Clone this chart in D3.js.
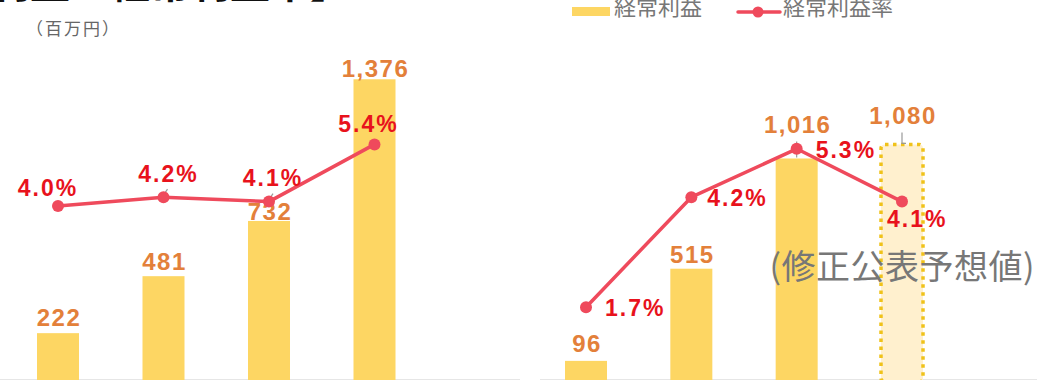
<!DOCTYPE html>
<html lang="ja">
<head>
<meta charset="utf-8">
<script src="https://cdn.jsdelivr.net/npm/d3@7"></script>
<style>
  html, body { margin: 0; padding: 0; background: #fff; }
  svg { display: block; }
</style>
</head>
<body>
<svg id="chart" width="1037" height="380"></svg>
<script>
// ---- data ----
const periodsA = ["A1", "A2", "A3", "A4"];
const profitA = [222, 481, 732, 1376];          // 経常利益 (百万円)
const marginA = [4.0, 4.2, 4.1, 5.4];           // 経常利益率 (%)

const periodsB = ["B1", "B2", "B3", "B4"];
const profitB = [96, 515, 1016, 1080];          // 経常利益 (百万円)
const marginB = [1.7, 4.2, 5.3, 4.1];           // 経常利益率 (%)
const forecastB = [false, false, false, true];  // 修正公表予想値

const titleText = "【経常利益・経常利益率】";
const unitText = "（百万円）";
const legendBar = "経常利益";
const legendLine = "経常利益率";
const forecastNote = "(修正公表予想値)";

// ---- layout ----
const BASE = 382, TOP = 30;
const BAR_W = 42;
const COL_BAR = "#FDD663";
const COL_VAL = "#E3803A";
const COL_PCT = "#E8121C";
const COL_LINE = "#EF4A5C";
const COL_GRAY = "#777";
const NUM_FONT = "'Liberation Sans', Arial, sans-serif";
const JP_FONT = "'Noto Sans CJK JP', 'Noto Sans', sans-serif";

const yBar = d3.scaleLinear().domain([0, 1600]).range([BASE, TOP]);
const yPct = d3.scaleLinear().domain([0, 8]).range([BASE, TOP]);

const svg = d3.select("#chart");

// heading (runs off the top edge)
svg.append("text")
  .attr("x", 350).attr("y", -2)
  .attr("text-anchor", "end")
  .attr("font-family", JP_FONT).attr("font-weight", 700)
  .attr("font-size", 40).attr("fill", "#111")
  .text(titleText);

svg.append("text")
  .attr("x", 26).attr("y", 35)
  .attr("font-family", JP_FONT).attr("font-size", 17)
  .attr("letter-spacing", 2)
  .attr("fill", "#666")
  .text(unitText);

// legend
const lg = svg.append("g");
lg.append("rect").attr("x", 572).attr("y", 7).attr("width", 38).attr("height", 9).attr("fill", COL_BAR);
lg.append("text").attr("x", 614).attr("y", 14.5)
  .attr("font-family", JP_FONT).attr("font-size", 22).attr("fill", COL_GRAY).text(legendBar);
lg.append("line").attr("x1", 738).attr("x2", 780).attr("y1", 12).attr("y2", 12)
  .attr("stroke", COL_LINE).attr("stroke-width", 3.5).attr("stroke-linecap", "round");
lg.append("circle").attr("cx", 758).attr("cy", 12).attr("r", 5.5).attr("fill", COL_LINE);
lg.append("text").attr("x", 783).attr("y", 14.5)
  .attr("font-family", JP_FONT).attr("font-size", 22).attr("fill", COL_GRAY).text(legendLine);

// label placement per point: bar value lift, percent label offset & anchor
function drawPanel(cfg) {
  const x = d3.scalePoint().domain(cfg.periods).range(cfg.xRange);
  const g = svg.append("g");
  const rows = cfg.periods.map((p, i) => ({
    p, v: cfg.profit[i], m: cfg.margin[i], fc: cfg.forecast ? cfg.forecast[i] : false, i
  }));

  // faint base line
  g.append("line")
    .attr("x1", cfg.axis[0]).attr("x2", cfg.axis[1])
    .attr("y1", 379.5).attr("y2", 379.5)
    .attr("stroke", "#e6e6e6").attr("stroke-width", 1);

  // bars
  g.selectAll("rect.bar").data(rows).join("rect")
    .attr("class", "bar")
    .attr("x", d => x(d.p) - BAR_W / 2)
    .attr("y", d => yBar(d.v))
    .attr("width", BAR_W)
    .attr("height", d => BASE - yBar(d.v))
    .attr("rx", d => d.fc ? 4 : 0)
    .attr("fill", d => d.fc ? "#FFF0CE" : COL_BAR)
    .attr("stroke", d => d.fc ? "#F0C21A" : "none")
    .attr("stroke-width", d => d.fc ? 3.5 : 0)
    .attr("stroke-dasharray", d => d.fc ? "3.5 4.5" : null);

  // leader lines from value labels
  rows.forEach(d => {
    const lift = cfg.valLift[d.i];
    if (lift > 15) {
      const y0 = yBar(d.v) - lift + 8, y1 = yBar(d.v);
      g.append("path")
        .attr("d", `M${x(d.p) + cfg.leadDx[d.i]},${y0}V${y1 - 1}` + (d.fc ? "h4" : ""))
        .attr("fill", "none").attr("stroke", "#999").attr("stroke-width", 1.2);
    }
  });
  cfg.pctLead.forEach((on, i) => {
    if (!on) return;
    const cx = x(cfg.periods[i]), cy = yPct(cfg.margin[i]);
    g.append("line").attr("x1", cx).attr("y1", cy - 2).attr("x2", cx + 4).attr("y2", cy - 8)
      .attr("stroke", "#999").attr("stroke-width", 1.2);
  });

  // bar value labels
  g.selectAll("text.val").data(rows).join("text")
    .attr("class", "val")
    .attr("x", d => x(d.p) + 1)
    .attr("y", d => yBar(d.v) - cfg.valLift[d.i])
    .attr("text-anchor", "middle")
    .attr("font-family", NUM_FONT).attr("font-weight", 700)
    .attr("font-size", 24).attr("letter-spacing", 1.5)
    .attr("fill", COL_VAL)
    .text(d => d3.format(",")(d.v));

  // margin line
  const line = d3.line().x(d => x(d.p)).y(d => yPct(d.m));
  g.append("path").datum(rows)
    .attr("d", line)
    .attr("fill", "none").attr("stroke", COL_LINE)
    .attr("stroke-width", 3.5).attr("stroke-linejoin", "round");
  g.selectAll("circle.pt").data(rows).join("circle")
    .attr("class", "pt")
    .attr("cx", d => x(d.p)).attr("cy", d => yPct(d.m))
    .attr("r", 6).attr("fill", COL_LINE);

  // margin labels
  g.selectAll("text.pct").data(rows).join("text")
    .attr("class", "pct")
    .attr("x", d => x(d.p) + cfg.pctDx[d.i])
    .attr("y", d => yPct(d.m) + cfg.pctDy[d.i])
    .attr("text-anchor", d => cfg.pctAnchor[d.i])
    .attr("font-family", NUM_FONT).attr("font-weight", 700)
    .attr("font-size", 23).attr("letter-spacing", 2)
    .attr("fill", COL_PCT)
    .text(d => d3.format(".1f")(d.m) + "%");

  return { g, x };
}

drawPanel({
  periods: periodsA, profit: profitA, margin: marginA,
  xRange: [58, 374.5], axis: [0, 520],
  valLift: [7, 6, 1, 2], leadDx: [0, 0, 0, 0],
  pctDx: [-10, 5, 4, -6], pctDy: [-10, -15, -16, -12],
  pctAnchor: ["middle", "middle", "middle", "middle"],
  pctLead: [false, true, true, false]
});

const right = drawPanel({
  periods: periodsB, profit: profitB, margin: marginB, forecast: forecastB,
  xRange: [586, 902], axis: [540, 1037],
  valLift: [9, 6, 25, 20], leadDx: [0, 0, 0, 0],
  pctDx: [19, 16, 19, -15], pctDy: [9, 9, 9, 25],
  pctAnchor: ["start", "start", "start", "start"],
  pctLead: [false, false, false, false]
});

// forecast note over the last column
right.g.append("text")
  .attr("x", 1035).attr("y", 279)
  .attr("text-anchor", "end")
  .attr("font-family", JP_FONT).attr("font-size", 34)
  .attr("letter-spacing", 0.5)
  .attr("fill", COL_GRAY)
  .text(forecastNote);
</script>
</body>
</html>
